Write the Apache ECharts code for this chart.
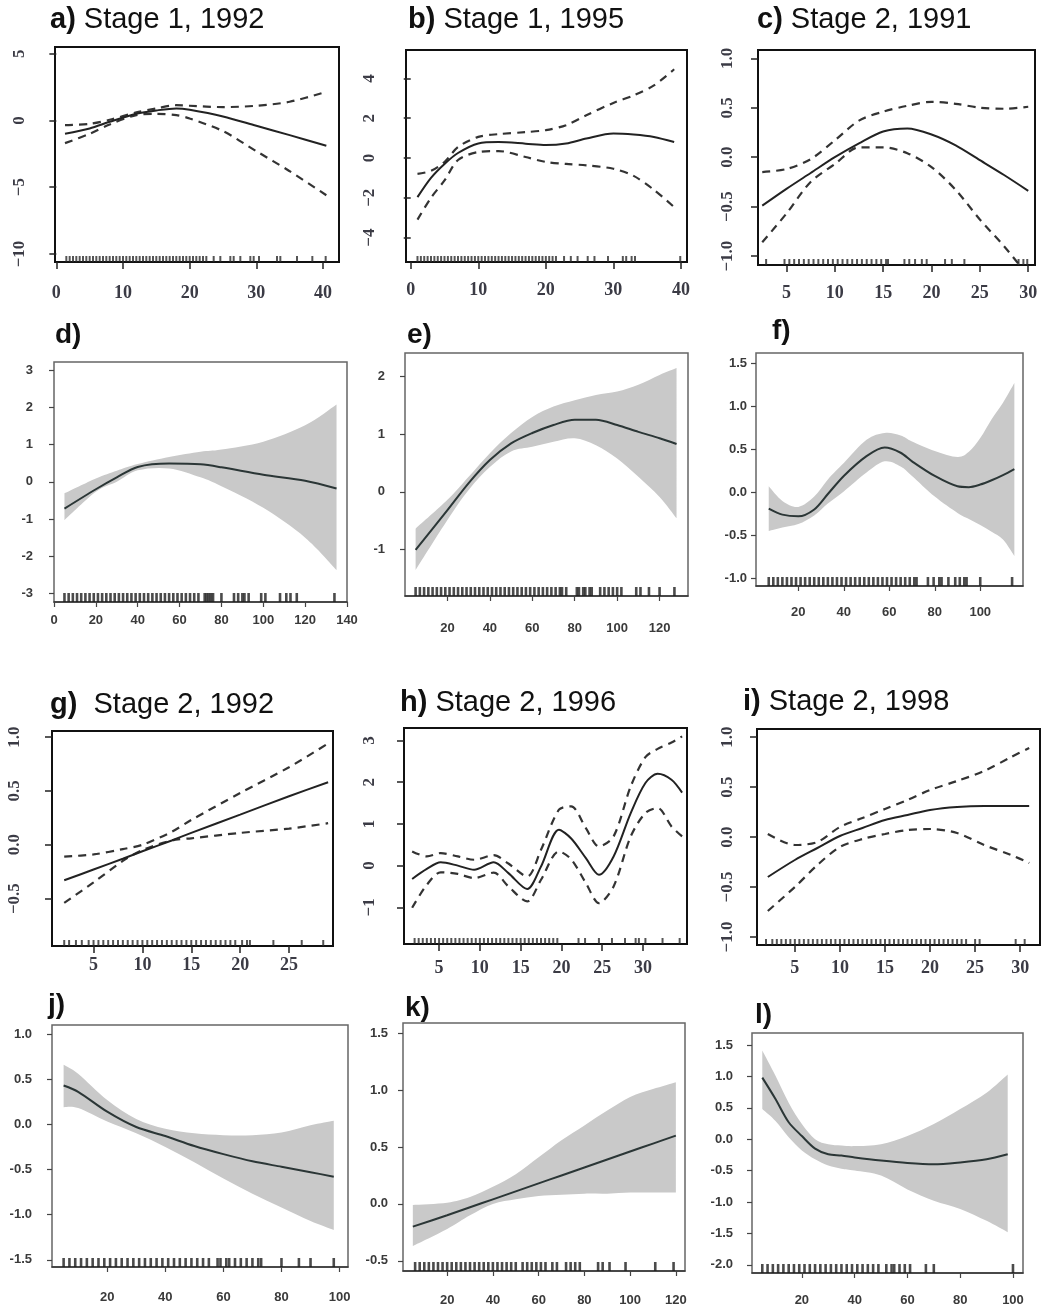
<!DOCTYPE html>
<html><head><meta charset="utf-8">
<script src="https://cdn.jsdelivr.net/npm/echarts@6/dist/echarts.min.js"></script>
<style>html,body{margin:0;padding:0;background:#fff}#c{width:1044px;height:1307px}</style>
</head><body><div id="c"></div>
<script>
// ---------------- data ----------------
const aX   = [1.3, 5, 8, 12, 15, 18, 20, 25, 30, 35, 40.5];
const aFit = [-1.0, -0.6, -0.1, 0.5, 0.75, 0.9, 0.8, 0.3, -0.4, -1.1, -1.9];
const aUp  = [-0.35, -0.25, 0.05, 0.6, 0.9, 1.14, 1.1, 1.0, 1.1, 1.4, 2.15];
const aLo  = [-1.7, -1.0, -0.3, 0.4, 0.5, 0.4, 0.15, -0.8, -2.3, -3.8, -5.6];
const aRug = [1.5,2,2.5,3,3.5,4,4.5,5,5.5,6,6.5,7,7.5,8,8.5,9,9.5,10,10.5,11,11.5,12,12.5,13,13.5,14,14.5,15,15.5,16,16.5,17,17.5,18,18.5,19,19.5,20,20.5,21,21.5,22,22.5,23.6,24.6,26.1,26.6,27.6,29.1,29.6,30.4,33.1,33.6,36.1,38.4,40.4];
const aXTicks = [0, 10, 20, 30, 40];
const aYTicks = [-10, -5, 0, 5];

const bX   = [1, 3, 5, 7, 10, 13, 17, 20, 23, 26, 30, 33, 36, 39];
const bFit = [-1.97, -1.0, -0.3, 0.25, 0.73, 0.8, 0.72, 0.65, 0.73, 0.98, 1.23, 1.18, 1.06, 0.8];
const bUp  = [-0.8, -0.65, -0.2, 0.55, 1.06, 1.2, 1.3, 1.4, 1.65, 2.15, 2.77, 3.15, 3.65, 4.46];
const bLo  = [-3.1, -2.0, -1.13, -0.1, 0.3, 0.35, 0.05, -0.2, -0.3, -0.37, -0.54, -0.9, -1.6, -2.47];
const bRug = [1,1.5,2,2.5,3,3.5,4,4.5,5,5.5,6,6.5,7,7.5,8,8.5,9,9.5,10,10.5,11,11.5,12,12.5,13,13.5,14,14.5,15,15.5,16,16.5,17,17.5,18,18.5,19,19.5,20,20.5,21,21.5,22.7,23.7,24.7,26.2,27.2,29.2,31.4,31.9,32.7,33.2,39.9];
const bXTicks = [0, 10, 20, 30, 40];
const bYTicks = [-4, -2, 0, 2, 4];

const cX   = [2.5, 5, 7.5, 10, 12.5, 15, 17.5, 20, 22.5, 25, 27.5, 30];
const cFit = [-0.49, -0.32, -0.16, 0.0, 0.14, 0.26, 0.29, 0.23, 0.12, -0.03, -0.18, -0.34];
const cUp  = [-0.15, -0.12, -0.02, 0.17, 0.37, 0.46, 0.52, 0.56, 0.54, 0.5, 0.49, 0.51];
const cLo  = [-0.86, -0.57, -0.25, -0.07, 0.1, 0.1, 0.04, -0.1, -0.33, -0.63, -0.9, -1.2];
const cRug = [2.9,4.8,5.3,5.8,6.3,6.8,7.3,7.8,8.3,8.8,9.3,9.8,10.3,10.8,11.3,11.8,12.3,12.8,13.3,13.8,14.3,14.8,15.3,15.5,17.2,17.7,18.3,19,19.5,21.4,22.1,23.4,29,29.5,29.9];
const cXTicks = [5, 10, 15, 20, 25, 30];
const cYTicks = [-1, -0.5, 0, 0.5, 1];

const dX   = [5, 20, 30, 40, 55, 70, 80, 100, 120, 135];
const dFit = [-0.72, -0.2, 0.12, 0.4, 0.49, 0.47, 0.39, 0.19, 0.03, -0.18];
const dHi  = [-0.31, 0.09, 0.3, 0.48, 0.67, 0.81, 0.87, 1.08, 1.52, 2.08];
const dLo  = [-1.03, -0.27, 0.0, 0.31, 0.36, 0.12, -0.12, -0.7, -1.5, -2.37];
const dRug = [5,7,9,11,13,15,17,19,21,23,25,27,29,31,33,35,37,39,41,43,45,47,49,51,53,55,57,59,61,63,65,67,69,72,73,74,75,76,80,86,88,90,91,93,99,101,108,111,113,116,134];
const dXTicks = [0, 20, 40, 60, 80, 100, 120, 140];
const dYTicks = [-3, -2, -1, 0, 1, 2, 3];

const eX   = [5, 20, 30, 40, 50, 60, 70, 80, 90, 100, 110, 120, 128];
const eFit = [-1.01, -0.32, 0.15, 0.55, 0.84, 1.02, 1.16, 1.25, 1.25, 1.16, 1.04, 0.93, 0.83];
const eHi  = [-0.64, -0.14, 0.26, 0.67, 1.02, 1.30, 1.48, 1.59, 1.68, 1.74, 1.86, 2.03, 2.15];
const eLo  = [-1.36, -0.49, 0.03, 0.43, 0.70, 0.78, 0.87, 0.93, 0.81, 0.58, 0.26, -0.09, -0.46];
const eRug = [5,7,9,11,13,15,17,19,21,23,25,27,29,31,33,35,37,39,41,43,45,47,49,51,53,55,57,59,61,63,65,67,69,71,73,74,76,81,82,84,85,87,88,92,94,96,98,100,102,109,111,115,120,127];
const eXTicks = [20, 40, 60, 80, 100, 120];
const eYTicks = [-1, 0, 1, 2];

const fX   = [7, 13, 20, 27, 33, 40, 50, 58, 65, 70, 80, 90, 95, 100, 105, 110, 115];
const fFit = [-0.19, -0.26, -0.28, -0.2, -0.02, 0.19, 0.42, 0.52, 0.46, 0.36, 0.19, 0.07, 0.06, 0.09, 0.14, 0.2, 0.27];
const fHi  = [0.07, -0.1, -0.17, -0.05, 0.15, 0.34, 0.61, 0.69, 0.66, 0.59, 0.48, 0.41, 0.47, 0.63, 0.85, 1.04, 1.27];
const fLo  = [-0.45, -0.41, -0.37, -0.27, -0.13, 0.01, 0.23, 0.36, 0.3, 0.19, -0.05, -0.24, -0.31, -0.38, -0.46, -0.55, -0.74];
const fRug = [7,9,11,13,15,17,19,21,23,25,27,29,31,33,35,37,39,41,43,45,47,49,51,53,55,57,59,61,63,65,67,69,71,72,77,79.5,82,83,86,89,91,93,94,100,114];
const fXTicks = [20, 40, 60, 80, 100];
const fYTicks = [-1, -0.5, 0, 0.5, 1, 1.5];

const gX   = [2, 5, 8, 10, 13, 15, 20, 25, 29];
const gFit = [-0.33, -0.23, -0.13, -0.06, 0.04, 0.11, 0.28, 0.45, 0.58];
const gUp  = [-0.11, -0.09, -0.04, 0.0, 0.12, 0.23, 0.48, 0.72, 0.94];
const gLo  = [-0.54, -0.35, -0.15, -0.05, 0.04, 0.06, 0.11, 0.15, 0.2];
const gRug = [2,2.5,3.2,3.8,4.5,5,5.5,6,6.5,7,7.5,8,8.5,9,9.5,10,10.5,11,11.5,12,12.5,13,13.5,14,14.5,15,15.5,16,16.5,17,17.5,18,18.5,19,19.5,20.2,20.7,21,23.4,26.3,28.5];
const gXTicks = [5, 10, 15, 20, 25];
const gYTicks = [-0.5, 0, 0.5, 1];

const hX   = [1.7, 3.5, 5.2, 7.3, 9.3, 11.7, 13.5, 15.8, 17.5, 19.7, 21.2, 23, 24.6, 26.4, 28.5, 30.3, 31.8, 33.5, 34.8];
const hFit = [-0.32, -0.08, 0.08, 0.0, -0.1, 0.08, -0.18, -0.56, -0.02, 0.86, 0.65, 0.18, -0.22, 0.22, 1.26, 1.98, 2.2, 2.06, 1.75];
const hUp  = [0.34, 0.22, 0.3, 0.22, 0.14, 0.25, 0.05, -0.26, 0.38, 1.34, 1.42, 0.9, 0.46, 0.7, 1.9, 2.6, 2.8, 2.95, 3.1];
const hLo  = [-1.01, -0.46, -0.16, -0.2, -0.3, -0.17, -0.5, -0.86, -0.34, 0.34, 0.15, -0.42, -0.9, -0.5, 0.7, 1.26, 1.38, 0.94, 0.7];
const hRug = [2,2.5,3,3.5,4,4.5,5,5.5,6,6.5,7,7.5,8,8.5,9,9.5,10,10.5,11,11.5,12,12.5,13,13.5,14,14.5,15,15.5,16,16.5,17,17.5,18,18.5,19,19.5,22.1,22.9,24.6,26.2,27.8,29.1,29.5,30.3,32.4,34.5];
const hXTicks = [5, 10, 15, 20, 25, 30];
const hYTicks = [-1, 0, 1, 2, 3];

const iX   = [2, 5, 7.5, 10, 12.5, 15, 17.5, 20, 23, 26, 29, 31];
const iFit = [-0.4, -0.23, -0.11, 0.01, 0.09, 0.17, 0.22, 0.27, 0.3, 0.31, 0.31, 0.31];
const iUp  = [0.03, -0.08, -0.05, 0.1, 0.19, 0.28, 0.37, 0.47, 0.56, 0.66, 0.8, 0.89];
const iLo  = [-0.74, -0.5, -0.28, -0.1, -0.02, 0.03, 0.07, 0.08, 0.04, -0.08, -0.18, -0.26];
const iRug = [1.8,2.5,3,3.5,4,4.5,5,5.5,6,6.5,7,7.5,8,8.5,9,9.5,10,10.5,11,11.5,12,12.5,13,13.5,14,14.5,15,15.5,16,16.5,17,17.5,18,18.5,19,19.5,20,20.5,21,21.5,22,22.5,23,23.5,24,25,25.5,29.5,30.5];
const iXTicks = [5, 10, 15, 20, 25, 30];
const iYTicks = [-1, -0.5, 0, 0.5, 1];

const jX   = [5, 10, 20, 30, 40, 50, 60, 70, 80, 90, 98];
const jFit = [0.43, 0.36, 0.14, -0.03, -0.13, -0.24, -0.33, -0.41, -0.47, -0.53, -0.58];
const jHi  = [0.66, 0.56, 0.27, 0.06, -0.05, -0.1, -0.12, -0.12, -0.09, -0.01, 0.04];
const jLo  = [0.19, 0.18, 0.03, -0.1, -0.25, -0.42, -0.6, -0.77, -0.92, -1.07, -1.17];
const jRug = [5,7,9,11,13,15,17,19,21,23,25,27,29,31,33,35,37,39,41,43,45,47,49,51,53,55,58,59,61,62,64,66,68,70,72,73,80,86,90,98];
const jXTicks = [20, 40, 60, 80, 100];
const jYTicks = [-1.5, -1, -0.5, 0, 0.5, 1];

const kX   = [5, 20, 30, 40, 50, 60, 70, 80, 90, 100, 110, 120];
const kFit = [-0.2, -0.1, -0.03, 0.04, 0.11, 0.18, 0.25, 0.32, 0.39, 0.46, 0.53, 0.6];
const kHi  = [-0.01, 0.01, 0.06, 0.15, 0.26, 0.41, 0.56, 0.69, 0.82, 0.94, 1.01, 1.07];
const kLo  = [-0.37, -0.22, -0.1, 0.0, 0.04, 0.07, 0.08, 0.09, 0.09, 0.1, 0.1, 0.1];
const kRug = [6,8,10,12,14,16,18,20,22,24,26,28,30,32,34,36,38,40,42,44,46,48,50,53,55,57,59,61,63,66,68,72,74,76,78,86,88,91,98,111,119];
const kXTicks = [20, 40, 60, 80, 100, 120];
const kYTicks = [-0.5, 0, 0.5, 1, 1.5];

const lX   = [5, 10, 15, 20, 25, 30, 35, 40, 50, 60, 70, 80, 90, 98];
const lFit = [0.98, 0.64, 0.27, 0.05, -0.15, -0.24, -0.26, -0.29, -0.34, -0.38, -0.4, -0.37, -0.32, -0.24];
const lHi  = [1.41, 1.01, 0.58, 0.24, 0.0, -0.08, -0.1, -0.11, -0.08, 0.05, 0.24, 0.48, 0.74, 1.03];
const lLo  = [0.48, 0.29, 0.03, -0.18, -0.32, -0.42, -0.47, -0.5, -0.58, -0.8, -0.98, -1.11, -1.3, -1.48];
const lRug = [5,7,9,11,13,15,17,19,21,23,25,27,29,31,33,35,37,39,41,43,45,47,49,52,54,55,57,59,61,67,70,100];
const lXTicks = [20, 40, 60, 80, 100];
const lYTicks = [-2, -1.5, -1, -0.5, 0, 0.5, 1, 1.5];

const titleTexts = {
  a: ['a)', ' Stage 1, 1992'], b: ['b)', ' Stage 1, 1995'], c: ['c)', ' Stage 2, 1991'],
  d: ['d)', ''], e: ['e)', ''], f: ['f)', ''],
  g: ['g)', '  Stage 2, 1992'], h: ['h)', ' Stage 2, 1996'], i: ['i)', ' Stage 2, 1998'],
  j: ['j)', ''], k: ['k)', ''], l: ['l)', '']
};

// ---------------- layout (positions / styles) ----------------
const panels = [
  {k:'a', kind:'dash', x:aX, fit:aFit, up:aUp, lo:aLo, rug:aRug, xt:aXTicks, yt:aYTicks, dec:0, g:[55,47,284,215], xr:[-0.2,42.4], yr:[-10.6,5.5], t:[50,20], xm:22, ym:27},
  {k:'b', kind:'dash', x:bX, fit:bFit, up:bUp, lo:bLo, rug:bRug, xt:bXTicks, yt:bYTicks, dec:0, g:[406,50,281,212], xr:[-0.7,40.9], yr:[-5.23,5.43], t:[408,20], xm:19, ym:28},
  {k:'c', kind:'dash', x:cX, fit:cFit, up:cUp, lo:cLo, rug:cRug, xt:cXTicks, yt:cYTicks, dec:1, g:[758,50,277,215], xr:[2.06,30.7], yr:[-1.09,1.084], t:[757,20], xm:19, ym:22},
  {k:'d', kind:'band', x:dX, fit:dFit, up:dHi, lo:dLo, rug:dRug, xt:dXTicks, yt:dYTicks, dec:0, g:[54,362,293,240], xr:[0,140], yr:[-3.23,3.22], t:[55,335], xm:12, ym:21},
  {k:'e', kind:'band', x:eX, fit:eFit, up:eHi, lo:eLo, rug:eRug, xt:eXTicks, yt:eYTicks, dec:0, g:[405,353,283,243], xr:[0,133.4], yr:[-1.81,2.41], t:[407,335], xm:26, ym:20},
  {k:'f', kind:'band', x:fX, fit:fFit, up:fHi, lo:fLo, rug:fRug, xt:fXTicks, yt:fYTicks, dec:1, g:[756,353,267,233], xr:[1.4,118.8], yr:[-1.09,1.62], t:[772,331], xm:20, ym:9},
  {k:'g', kind:'dash', x:gX, fit:gFit, up:gUp, lo:gLo, rug:gRug, xt:gXTicks, yt:gYTicks, dec:1, g:[52,731,281,215], xr:[0.75,29.5], yr:[-0.94,1.056], t:[50,705], xm:10, ym:29},
  {k:'h', kind:'dash', x:hX, fit:hFit, up:hUp, lo:hLo, rug:hRug, xt:hXTicks, yt:hYTicks, dec:0, g:[404,728,283,216], xr:[0.7,35.4], yr:[-1.88,3.3], t:[400,703], xm:15, ym:26},
  {k:'i', kind:'dash', x:iX, fit:iFit, up:iUp, lo:iLo, rug:iRug, xt:iXTicks, yt:iYTicks, dec:1, g:[757,729,283,216], xr:[0.8,32.2], yr:[-1.08,1.08], t:[743,702], xm:14, ym:21},
  {k:'j', kind:'band', x:jX, fit:jFit, up:jHi, lo:jLo, rug:jRug, xt:jXTicks, yt:jYTicks, dec:1, g:[52,1025,296,242], xr:[1,102.9], yr:[-1.58,1.1], t:[48,1005], xm:24, ym:20},
  {k:'k', kind:'band', x:kX, fit:kFit, up:kHi, lo:kLo, rug:kRug, xt:kXTicks, yt:kYTicks, dec:1, g:[403,1023,282,249], xr:[0.7,124], yr:[-0.59,1.59], t:[405,1008], xm:23, ym:15},
  {k:'l', kind:'band', x:lX, fit:lFit, up:lHi, lo:lLo, rug:lRug, xt:lXTicks, yt:lYTicks, dec:1, g:[752,1033,271,240], xr:[1.1,103.8], yr:[-2.13,1.69], t:[755,1015], xm:21, ym:19}
];

const SANS = '"Liberation Sans", Arial, Helvetica, sans-serif';
const SERIF = '"Liberation Serif", "Times New Roman", serif';

function zip(xs, ys) { return xs.map((x, i) => [x, ys[i]]); }
function fmt(v, dec, minus) {
  let s = dec ? Math.abs(v).toFixed(dec) : String(Math.abs(v));
  return (v < 0 ? minus : '') + s;
}
function curve(pts) {
  let d = '';
  for (let k = 0; k < pts.length - 1; k++) {
    const p0 = pts[Math.max(k - 1, 0)], p1 = pts[k], p2 = pts[k + 1], p3 = pts[Math.min(k + 2, pts.length - 1)];
    const c1 = [p1[0] + (p2[0] - p0[0]) / 6, p1[1] + (p2[1] - p0[1]) / 6];
    const c2 = [p2[0] - (p3[0] - p1[0]) / 6, p2[1] - (p3[1] - p1[1]) / 6];
    d += 'C' + c1[0] + ',' + c1[1] + ' ' + c2[0] + ',' + c2[1] + ' ' + p2[0] + ',' + p2[1] + ' ';
  }
  return d;
}

const titles = [], grids = [], xAxes = [], yAxes = [], series = [];
panels.forEach((p, i) => {
  const dash = p.kind === 'dash';
  const tt = titleTexts[p.k];
  const tSize = dash ? 29 : 28;
  titles.push({
    text: '{b|' + tt[0] + '}' + (tt[1] ? '{n|' + tt[1] + '}' : ''),
    left: p.t[0], top: p.t[1] - 16, padding: 0,
    textStyle: {
      rich: {
        b: {fontFamily: SANS, fontWeight: 'bold', fontSize: tSize, color: '#111', lineHeight: 32},
        n: {fontFamily: SANS, fontWeight: 'normal', fontSize: tSize, color: '#111', lineHeight: 32}
      }
    }
  });
  grids.push({
    left: p.g[0], top: p.g[1], width: p.g[2], height: p.g[3], show: true,
    borderColor: dash ? '#111' : '#666', borderWidth: dash ? 2 : 1.5, backgroundColor: 'transparent'
  });
  const labCol = dash ? '#3b3b45' : '#3a3a3a';
  xAxes.push({
    type: 'value', gridIndex: i, min: p.xr[0], max: p.xr[1],
    splitLine: {show: false},
    axisLine: {show: !dash, onZero: false, lineStyle: {color: '#333', width: 1.5}},
    axisTick: {show: true, customValues: p.xt, length: dash ? 7 : 5, lineStyle: {color: dash ? '#222' : '#444', width: dash ? 1.5 : 1.2}},
    axisLabel: {
      customValues: p.xt, margin: p.xm, fontFamily: dash ? SERIF : SANS, fontWeight: 'bold',
      fontSize: dash ? 18 : 13, color: labCol, formatter: v => fmt(v, 0, '-')
    }
  });
  yAxes.push({
    type: 'value', gridIndex: i, min: p.yr[0], max: p.yr[1],
    splitLine: {show: false},
    axisLine: {show: false},
    axisTick: {show: true, customValues: p.yt, length: dash ? 7 : 5, lineStyle: {color: dash ? '#222' : '#444', width: dash ? 1.5 : 1.2}},
    axisLabel: {
      customValues: p.yt, margin: p.ym, rotate: dash ? 90 : 0, fontFamily: dash ? SERIF : SANS, fontWeight: 'bold',
      fontSize: dash ? 17 : 13, color: labCol, formatter: v => fmt(v, p.dec, dash ? '\u2212' : '-')
    }
  });
  if (dash) {
    series.push({type: 'line', xAxisIndex: i, yAxisIndex: i, data: zip(p.x, p.up), smooth: 0.3, symbol: 'none', silent: true, z: 3,
      lineStyle: {color: '#333', width: 2.2, type: [8, 6]}});
    series.push({type: 'line', xAxisIndex: i, yAxisIndex: i, data: zip(p.x, p.lo), smooth: 0.3, symbol: 'none', silent: true, z: 3,
      lineStyle: {color: '#333', width: 2.2, type: [8, 6]}});
    series.push({type: 'line', xAxisIndex: i, yAxisIndex: i, data: zip(p.x, p.fit), smooth: 0.3, symbol: 'none', silent: true, z: 4,
      lineStyle: {color: '#222', width: 2}});
  } else {
    const bandData = p.x.map((x, k) => [x, p.lo[k], p.up[k]]);
    series.push({
      type: 'custom', xAxisIndex: i, yAxisIndex: i, data: bandData, silent: true, z: 2,
      encode: {x: 0, y: [1, 2]},
      renderItem: (params, api) => {
        if (params.dataIndex !== 0) return null;
        const top = bandData.map(d => api.coord([d[0], d[2]]));
        const bot = bandData.map(d => api.coord([d[0], d[1]])).reverse();
        const path = 'M' + top[0][0] + ',' + top[0][1] + ' ' + curve(top) +
          'L' + bot[0][0] + ',' + bot[0][1] + ' ' + curve(bot) + 'Z';
        return {type: 'path', shape: {pathData: path}, style: {fill: '#c9c9c9', stroke: null}};
      }
    });
    series.push({type: 'line', xAxisIndex: i, yAxisIndex: i, data: zip(p.x, p.fit), smooth: 0.3, symbol: 'none', silent: true, z: 4,
      lineStyle: {color: '#2b3636', width: 2}});
  }
  series.push({
    type: 'scatter', xAxisIndex: i, yAxisIndex: i, data: p.rug.map(v => [v, p.yr[0]]), silent: true, clip: false, z: 5,
    symbol: 'rect', symbolSize: dash ? [2, 6] : [2.6, 9], symbolOffset: [0, dash ? -3 : -4.5],
    itemStyle: {color: dash ? '#2a2a2a' : '#1e1e1e'}
  });
});

const chart = echarts.init(document.getElementById('c'));
chart.setOption({animation: false, title: titles, grid: grids, xAxis: xAxes, yAxis: yAxes, series: series});
</script>
</body></html>
